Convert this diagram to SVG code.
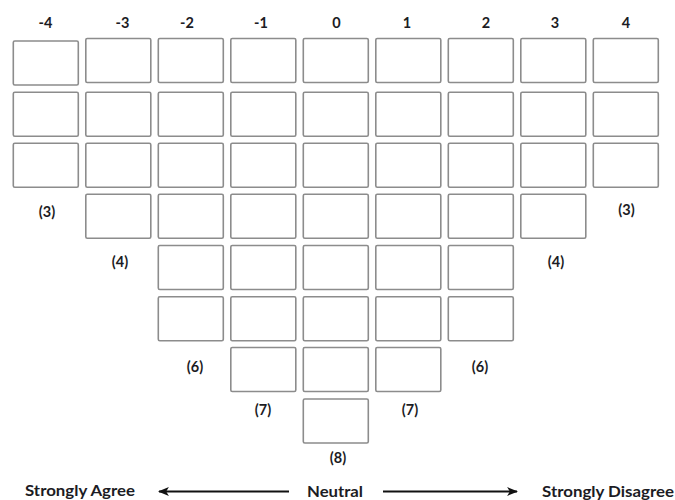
<svg xmlns="http://www.w3.org/2000/svg" width="675" height="500" viewBox="0 0 675 500">
<style>
.c{fill:#fff;stroke:#8c8c8c;stroke-width:1.6}
.t{font-family:Lato,"Open Sans","Liberation Sans",sans-serif;font-weight:bold;font-size:14.5px;fill:#1c1c24;text-anchor:middle}
.b{font-family:Lato,"Open Sans","Liberation Sans",sans-serif;font-weight:bold;font-size:15.5px;fill:#1c1c24}
.a{stroke:#111;stroke-width:2.2;fill:none}
</style>
<defs>
<marker id="ah" viewBox="0 0 10 8" refX="9" refY="4" markerWidth="5" markerHeight="4" orient="auto-start-reverse" markerUnits="strokeWidth">
<path d="M0,0 L10,4 L0,8 L2.5,4 Z" fill="#111"/>
</marker>
</defs>
<rect width="675" height="500" fill="#fff"/>
<g id="headers">
<text class="t" x="45.5" y="28">-4</text>
<text class="t" x="122.5" y="28">-3</text>
<text class="t" x="187" y="28">-2</text>
<text class="t" x="261" y="28">-1</text>
<text class="t" x="336.5" y="28">0</text>
<text class="t" x="407" y="28">1</text>
<text class="t" x="486" y="28">2</text>
<text class="t" x="555" y="28">3</text>
<text class="t" x="626" y="28">4</text>
</g>
<g id="col-m4">
<rect class="c" x="13.3" y="41" width="65" height="44" rx="1.5"/>
<rect class="c" x="13.3" y="92.3" width="65" height="44" rx="1.5"/>
<rect class="c" x="13.3" y="143.3" width="65" height="44" rx="1.5"/>
</g>
<g id="col-m3">
<rect class="c" x="85.8" y="38.5" width="65" height="44" rx="1.5"/>
<rect class="c" x="85.8" y="92.3" width="65" height="44" rx="1.5"/>
<rect class="c" x="85.8" y="143.3" width="65" height="44" rx="1.5"/>
<rect class="c" x="85.8" y="194.3" width="65" height="44" rx="1.5"/>
</g>
<g id="col-m2">
<rect class="c" x="158.3" y="38.5" width="65" height="44" rx="1.5"/>
<rect class="c" x="158.3" y="92.3" width="65" height="44" rx="1.5"/>
<rect class="c" x="158.3" y="143.3" width="65" height="44" rx="1.5"/>
<rect class="c" x="158.3" y="194.3" width="65" height="44" rx="1.5"/>
<rect class="c" x="158.3" y="245.5" width="65" height="44" rx="1.5"/>
<rect class="c" x="158.3" y="296.7" width="65" height="44" rx="1.5"/>
</g>
<g id="col-m1">
<rect class="c" x="230.8" y="38.5" width="65" height="44" rx="1.5"/>
<rect class="c" x="230.8" y="92.3" width="65" height="44" rx="1.5"/>
<rect class="c" x="230.8" y="143.3" width="65" height="44" rx="1.5"/>
<rect class="c" x="230.8" y="194.3" width="65" height="44" rx="1.5"/>
<rect class="c" x="230.8" y="245.5" width="65" height="44" rx="1.5"/>
<rect class="c" x="230.8" y="296.7" width="65" height="44" rx="1.5"/>
<rect class="c" x="230.8" y="347.5" width="65" height="44" rx="1.5"/>
</g>
<g id="col-0">
<rect class="c" x="303.3" y="38.5" width="65" height="44" rx="1.5"/>
<rect class="c" x="303.3" y="92.3" width="65" height="44" rx="1.5"/>
<rect class="c" x="303.3" y="143.3" width="65" height="44" rx="1.5"/>
<rect class="c" x="303.3" y="194.3" width="65" height="44" rx="1.5"/>
<rect class="c" x="303.3" y="245.5" width="65" height="44" rx="1.5"/>
<rect class="c" x="303.3" y="296.7" width="65" height="44" rx="1.5"/>
<rect class="c" x="303.3" y="347.5" width="65" height="44" rx="1.5"/>
<rect class="c" x="303.3" y="399" width="65" height="44" rx="1.5"/>
</g>
<g id="col-p1">
<rect class="c" x="375.8" y="38.5" width="65" height="44" rx="1.5"/>
<rect class="c" x="375.8" y="92.3" width="65" height="44" rx="1.5"/>
<rect class="c" x="375.8" y="143.3" width="65" height="44" rx="1.5"/>
<rect class="c" x="375.8" y="194.3" width="65" height="44" rx="1.5"/>
<rect class="c" x="375.8" y="245.5" width="65" height="44" rx="1.5"/>
<rect class="c" x="375.8" y="296.7" width="65" height="44" rx="1.5"/>
<rect class="c" x="375.8" y="347.5" width="65" height="44" rx="1.5"/>
</g>
<g id="col-p2">
<rect class="c" x="448.3" y="38.5" width="65" height="44" rx="1.5"/>
<rect class="c" x="448.3" y="92.3" width="65" height="44" rx="1.5"/>
<rect class="c" x="448.3" y="143.3" width="65" height="44" rx="1.5"/>
<rect class="c" x="448.3" y="194.3" width="65" height="44" rx="1.5"/>
<rect class="c" x="448.3" y="245.5" width="65" height="44" rx="1.5"/>
<rect class="c" x="448.3" y="296.7" width="65" height="44" rx="1.5"/>
</g>
<g id="col-p3">
<rect class="c" x="520.8" y="38.5" width="65" height="44" rx="1.5"/>
<rect class="c" x="520.8" y="92.3" width="65" height="44" rx="1.5"/>
<rect class="c" x="520.8" y="143.3" width="65" height="44" rx="1.5"/>
<rect class="c" x="520.8" y="194.3" width="65" height="44" rx="1.5"/>
</g>
<g id="col-p4">
<rect class="c" x="593.3" y="38.5" width="65" height="44" rx="1.5"/>
<rect class="c" x="593.3" y="92.3" width="65" height="44" rx="1.5"/>
<rect class="c" x="593.3" y="143.3" width="65" height="44" rx="1.5"/>
</g>
<g id="counts">
<text class="t" x="47" y="217">(3)</text>
<text class="t" x="626.5" y="215">(3)</text>
<text class="t" x="120" y="267">(4)</text>
<text class="t" x="556" y="267">(4)</text>
<text class="t" x="195" y="372">(6)</text>
<text class="t" x="480" y="372">(6)</text>
<text class="t" x="263" y="415">(7)</text>
<text class="t" x="410" y="415">(7)</text>
<text class="t" x="338" y="463">(8)</text>
</g>
<g id="connectors">
<line class="a" x1="289" y1="491.5" x2="159" y2="491.5" marker-end="url(#ah)"/>
<line class="a" x1="383" y1="491.5" x2="517" y2="491.5" marker-end="url(#ah)"/>
</g>
<g id="scale-labels">
<text class="b" x="25" y="496" textLength="110" lengthAdjust="spacingAndGlyphs">Strongly Agree</text>
<text class="b" x="307" y="497" textLength="56" lengthAdjust="spacingAndGlyphs">Neutral</text>
<text class="b" x="542" y="497" textLength="132" lengthAdjust="spacingAndGlyphs">Strongly Disagree</text>
</g>
</svg>
